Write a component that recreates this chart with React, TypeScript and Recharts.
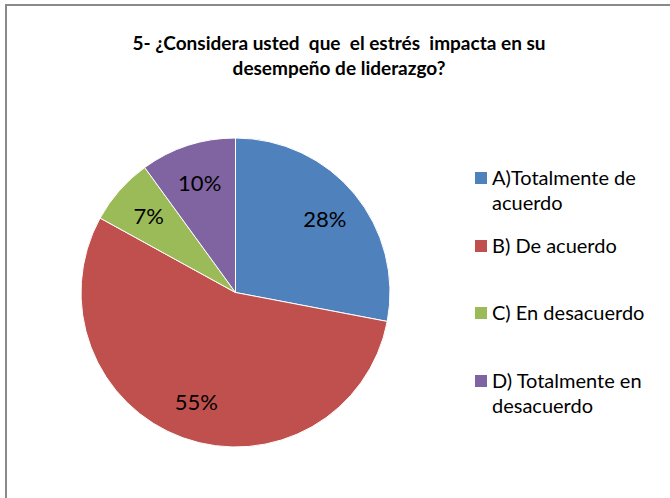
import React from "react";
import { PieChart, Pie, Cell, Legend } from "recharts";

const categories = [
  "A)Totalmente de acuerdo",
  "B) De acuerdo",
  "C) En desacuerdo",
  "D) Totalmente en desacuerdo",
];
const legendLines = [
  ["A)Totalmente de", "acuerdo"],
  ["B) De acuerdo"],
  ["C) En desacuerdo"],
  ["D) Totalmente en", "desacuerdo"],
];
const percentages = [28, 55, 7, 10];
const colors = ["#4F81BD", "#C0504D", "#9BBB59", "#8064A2"];

const titleLines = [
  "5- ¿Considera usted  que  el estrés  impacta en su",
  "desempeño de liderazgo?",
];

const data = categories.map((name, i) => ({ name, value: percentages[i] }));

const FONT = "Lato, 'Open Sans', sans-serif";
const RADIAN = Math.PI / 180;

const renderLabel = (props: any) => {
  const { cx, cy, midAngle, outerRadius, value } = props;
  const r = outerRadius * 0.75;
  const x = cx + r * Math.cos(-midAngle * RADIAN);
  const y = cy + r * Math.sin(-midAngle * RADIAN);
  return (
    <text
      x={x}
      y={y}
      textAnchor="middle"
      dominantBaseline="central"
      fill="#000"
      fontSize={22}
      fontFamily={FONT}
    >
      {`${value}%`}
    </text>
  );
};

const renderLegend = () => (
  <div style={{ fontFamily: FONT, fontSize: 20, color: "#000" }}>
    {legendLines.map((lines, i) => (
      <div key={i} style={{ position: "relative", height: 67.5, paddingLeft: 17 }}>
        <span
          style={{
            position: "absolute",
            left: 0,
            top: 7,
            width: 12,
            height: 12,
            background: colors[i],
          }}
        />
        {lines.map((l, j) => (
          <div key={j} style={{ lineHeight: "25px", whiteSpace: "nowrap" }}>
            {l}
          </div>
        ))}
      </div>
    ))}
  </div>
);

export default function App() {
  return (
    <div
      style={{
        position: "absolute",
        left: 0,
        top: 0,
        width: 670,
        height: 498,
        background: "#fff",
        overflow: "hidden",
      }}
    >
      <div
        style={{
          position: "absolute",
          left: 5,
          top: 4,
          width: 680,
          height: 520,
          border: "2px solid #8a8a8a",
          boxSizing: "border-box",
        }}
      />
      <div
        style={{
          position: "absolute",
          left: 0,
          top: 30,
          width: 678,
          textAlign: "center",
          fontFamily: FONT,
          fontWeight: 700,
          fontSize: 19,
          lineHeight: "25px",
          color: "#000",
          whiteSpace: "pre",
        }}
      >
        {titleLines.map((t, i) => (
          <div key={i}>{t}</div>
        ))}
      </div>
      <div style={{ position: "absolute", left: 0, top: 0 }}>
        <PieChart width={670} height={498} margin={{ top: 0, right: 0, bottom: 0, left: 0 }}>
          <Pie
            data={data}
            dataKey="value"
            nameKey="name"
            cx={235.5}
            cy={292.5}
            outerRadius={154.5}
            startAngle={90}
            endAngle={-270}
            stroke="#ffffff"
            strokeWidth={1}
            label={renderLabel}
            labelLine={false}
            isAnimationActive={false}
          >
            {data.map((d, i) => (
              <Cell key={d.name} fill={colors[i]} />
            ))}
          </Pie>
          <Legend
            content={renderLegend}
            wrapperStyle={{ position: "absolute", left: 475, top: 165, width: 195 }}
          />
        </PieChart>
      </div>
    </div>
  );
}
